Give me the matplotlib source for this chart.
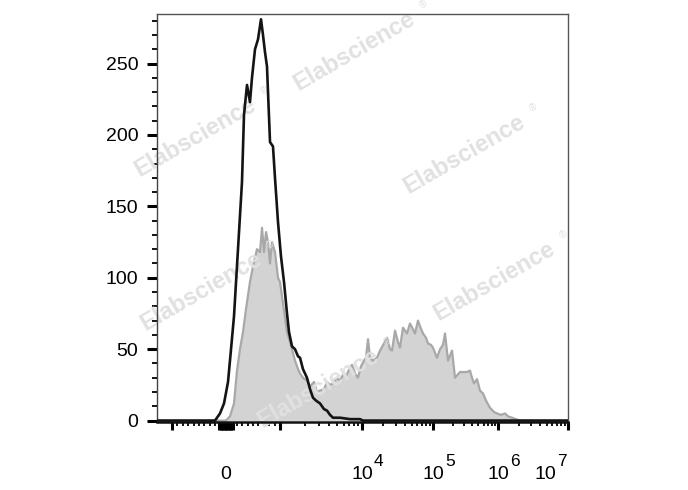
import numpy as np
import matplotlib.pyplot as plt
from matplotlib.transforms import ScaledTranslation, blended_transform_factory

plt.rcParams['font.family'] = ['Liberation Sans', 'DejaVu Sans']

# unstained / isotype control (black outline)
black_x = [-1524, -389, -204, -111, -37, 37, 93, 148, 222, 296, 333, 389, 444, 481, 537, 593,
           648, 685, 722, 759, 815, 870, 907, 963, 1028, 1119, 1217, 1288, 1400, 1524, 1659,
           1754, 1906, 2133, 2322, 2525, 2748, 3076, 3443, 3742, 4074, 4428, 5395, 7145, 9460,
           10330, 1e7]
black_y = [0, 0, 0, 5, 12, 27, 50, 73, 120, 167, 214, 235, 223, 240, 260, 267,
           281, 270, 258, 248, 195, 192, 170, 139, 115, 97, 75, 62, 52, 50, 45,
           44, 36, 30, 22, 16, 14, 12, 8, 7, 4, 2, 2, 1, 1,
           0, 0]

# stained sample (grey filled)
gray_x = [-1524, 0, 74, 148, 204, 259, 315, 370, 444, 500, 574, 630, 667, 704, 741, 778, 815,
          852, 907, 963, 1000, 1088, 1217, 1324, 1400, 1524, 1659, 1754, 1906, 2133, 2322,
          2600, 2825, 3076, 3443, 3742, 4074, 4428, 4955, 5395, 5861, 6383, 7145, 7551, 8222,
          8935, 9724, 10670, 11380, 12150, 12970, 14290, 16260, 17930, 20400, 22500, 24780,
          26480, 29170, 32150, 34280, 37780, 43030, 47430, 52250, 55720, 61480, 65610, 72290,
          79660, 85110, 93750, 100000, 115200, 128200, 142600, 153000, 170200, 196100, 218000,
          260000, 333200, 370700, 398100, 427400, 475300, 528500, 587600, 653300, 753100,
          867700, 965100, 1104000, 1259000, 1389000, 1585000, 1808000, 2062000, 1e7]
gray_y = [0, 0, 3, 12, 35, 50, 62, 78, 97, 108, 120, 118, 135, 118, 132, 125, 110,
          125, 118, 100, 97, 82, 62, 55, 50, 42, 36, 33, 30, 28, 24,
          27, 20, 21, 22, 27, 25, 26, 30, 28, 32, 31, 37, 39, 33,
          30, 38, 42, 44, 57, 44, 42, 44, 49, 54, 58, 50,
          49, 63, 55, 51, 65, 61, 68, 64, 61, 70, 66, 61,
          58, 54, 53, 51, 44, 50, 53, 61, 42, 49, 30,
          34, 34, 35, 30, 26, 29, 21, 19, 14, 9,
          6, 5, 4, 5, 3, 2, 1, 0, 0]

x_labels = {0: '0', 1e4: '10', 1e5: '10', 1e6: '10', 1e7: '10'}
x_exponents = {1e4: '4', 1e5: '5', 1e6: '6', 1e7: '7'}

# display transform: linear near zero, log-like per decade above 1000
DEC = [3, 4, 5, 6, 7, 9]
POS = [54, 136, 207, 272, 342, 482]


def fwd(x):
    x = np.asarray(x, float)
    a = np.abs(x)
    lg = np.interp(np.log10(np.maximum(a, 1000)), DEC, POS)
    return np.sign(x) * np.where(a <= 1000, a * 0.054, lg)


def inv(y):
    y = np.asarray(y, float)
    a = np.abs(y)
    lg = 10 ** np.interp(np.maximum(a, 54), POS, DEC)
    return np.sign(y) * np.where(a <= 54, a / 0.054, lg)


fig = plt.figure(figsize=(6.88, 4.9), dpi=100)
ax = fig.add_axes([157 / 688, 68 / 490, 411 / 688, 408 / 490])
ax.set_xscale('function', functions=(fwd, inv))

ax.fill_between(gray_x, gray_y, color='#d3d3d3', lw=0, zorder=1)
ax.plot(gray_x, gray_y, color='#a8a8a8', lw=1.6, zorder=1.5)
ax.plot(black_x, black_y, color='#141414', lw=1.9, zorder=3)


def mark(px, py):
    ax.text(px / 688, 1 - py / 490, 'Elabscience', transform=fig.transFigure, rotation=30,
            ha='center', va='center', fontsize=17, fontweight='bold', color='#e1e1e1',
            zorder=2, clip_on=False)
    ex = px + 76 * np.cos(np.radians(30)) + 4
    ey = py - 76 * np.sin(np.radians(30)) - 8
    ax.text(ex / 688, 1 - ey / 490, '®', transform=fig.transFigure, rotation=30,
            ha='center', va='center', fontsize=7, color='#e1e1e1', zorder=2, clip_on=False)


for px, py in [(354, 51), (464, 154), (494, 281), (195, 137), (201, 291), (318, 388)]:
    mark(px, py)

ax.set_xlim(-1524, 1e7)
ax.set_ylim(-1, 284.7)

# x ticks
major = [-1000] + list(np.arange(-125, 126, 25)) + [1000, 1e4, 1e5, 1e6, 1e7]
ax.set_xticks(major)
ax.set_xticklabels([x_labels.get(m, '') for m in major])
minor = [-k * 100 for k in range(2, 10)] + [k * 100 for k in range(2, 10)]
for n in range(3, 7):
    minor += [k * 10 ** n for k in range(2, 10)]
ax.set_xticks(minor, minor=True)

# y ticks
ax.set_yticks(np.arange(0, 251, 50))
ax.set_yticks(np.arange(0, 285, 10), minor=True)

ax.tick_params(axis='y', which='major', length=7.5, width=2.2, labelsize=14, pad=6)
ax.tick_params(axis='y', which='minor', length=3.5, width=1.3)
ax.tick_params(axis='x', which='major', length=6, width=2.2, labelsize=14, pad=35)
ax.tick_params(axis='x', which='minor', length=3, width=1.3)

px = 1 / 100
for lab in ax.get_xticklabels():
    lab.set_verticalalignment('baseline')
    if lab.get_position()[0] == 1e7:
        lab.set_transform(lab.get_transform() + ScaledTranslation(-23 * px, 0, fig.dpi_scale_trans))

bt = blended_transform_factory(ax.transData, ax.transAxes)
for t, e in x_exponents.items():
    dx = 12 if t != 1e7 else -11
    ax.text(t, 0, e, fontsize=12.5, ha='left', va='baseline', clip_on=False,
            transform=bt + ScaledTranslation(dx * px, -44 * px, fig.dpi_scale_trans))

for s in ['top', 'right']:
    ax.spines[s].set_linewidth(1.0)
    ax.spines[s].set_color('#555555')
ax.spines['left'].set_linewidth(1.0)
ax.spines['left'].set_color('#444444')
ax.spines['bottom'].set_linewidth(1.8)
ax.spines['bottom'].set_color('#111111')

fig.savefig('out.png', dpi=100)
